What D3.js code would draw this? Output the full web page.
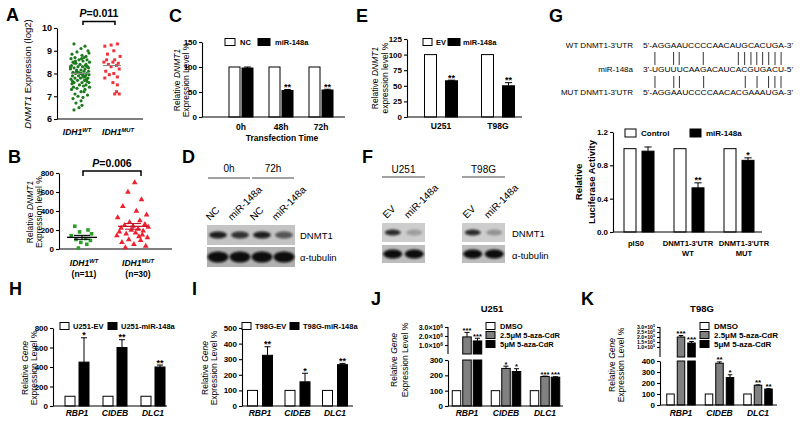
<!DOCTYPE html>
<html><head><meta charset="utf-8">
<script src="https://cdn.jsdelivr.net/npm/d3@7/dist/d3.min.js"></script>
<style>
body{margin:0;background:#fff;}
svg{display:block;font-family:"Liberation Sans",Arial,Helvetica,sans-serif;}
</style></head><body>
<script>
// ---------------- DATA ----------------
const aCats = ["IDH1WT", "IDH1MUT"];
const aTicks = [6, 7, 8, 9, 10];
const aWTvals = [9.3,9.2,9.1,9.0,8.95,8.9,8.85,8.8,8.75,8.7,8.7,8.65,8.6,8.6,8.55,8.5,8.5,8.45,8.4,8.4,8.35,8.3,8.3,8.3,8.25,8.2,8.2,8.15,8.1,8.1,8.1,8.05,8.0,8.0,8.0,7.95,7.9,7.9,7.9,7.85,7.8,7.8,7.8,7.75,7.7,7.7,7.65,7.6,7.6,7.55,7.5,7.5,7.45,7.4,7.4,7.35,7.3,7.3,7.2,7.2,7.1,7.05,7.0,6.95,6.9,6.8,6.7,6.6,6.5,6.4,8.65,8.45,8.25,8.05,7.85,7.65,8.35,8.15,7.95,7.75,8.55,8.0,7.6,8.3,7.9];
const aWTjit = [-0.6,0.5,0.1,0.8,-0.3,0.9,-0.8,0.2,0.6,-0.5,0.4,-0.9,0.7,-0.1,0.3,-0.7,0.95,-0.4,0.0,0.6,-0.85,0.25,-0.2,0.75,-0.6,0.5,-0.95,0.1,0.85,-0.35,0.4,-0.7,0.15,0.65,-0.45,0.9,-0.15,0.55,-0.75,0.3,-0.5,0.8,0.05,-0.9,0.45,-0.25,0.7,-0.6,0.2,-0.8,0.6,-0.05,0.35,-0.65,0.95,-0.3,0.5,-0.85,0.1,0.4,-0.5,0.75,-0.2,0.3,-0.7,0.1,-0.4,0.2,-0.1,-0.6,0.15,-0.55,0.85,-0.15,0.45,-0.75,0.55,-0.35,0.25,0.65,-0.45,0.05,0.9,-0.95,0.35];
const aMUTvals = [9.3,9.25,9.2,9.0,8.85,8.75,8.6,8.5,8.5,8.45,8.4,8.35,8.3,8.2,8.1,8.0,7.95,7.85,7.8,7.6,7.5,7.2,7.1,7.1,8.6];
const aMUTjit = [0.6,-0.1,-0.8,0.2,-0.5,0.9,0.3,-0.9,0.1,0.7,-0.4,0.5,-0.1,0.8,-0.7,0.2,-0.3,0.6,-0.8,0.1,0.6,0.5,0.3,0.8,-0.6];

const bCats = ["IDH1WT", "IDH1MUT"];
const bTicks = [0, 200, 400, 600, 800];
const bWTvals = [240,200,180,160,140,110,100,90,70,50,10];
const bWTjit = [-0.6,0.5,-0.2,0.8,-0.9,0.3,-0.5,0.7,-0.1,0.4,-0.3];
const bMUTvals = [700,600,520,450,400,360,330,300,280,260,250,240,230,220,210,200,190,180,170,160,150,140,130,120,100,90,70,50,30,15];
const bMUTjit = [0.1,-0.3,0.5,-0.6,0.2,0.8,-0.9,0.4,-0.2,0.7,-0.5,0.0,0.9,-0.7,0.3,-0.1,0.6,-0.8,0.15,-0.4,0.55,-0.95,0.35,0.85,-0.25,0.45,-0.65,0.05,0.75,-0.45];

const cGroups = ["0h", "48h", "72h"];
const cTicks = [0, 50, 100, 150];
const cNC = [100, 100, 100];
const cMiR = [98, 53, 54];
const cMiRerr = [2, 2, 1.5];
const cStars = ["", "**", "**"];

const dLanes = ["NC", "miR-148a", "NC", "miR-148a"];
const dTimes = ["0h", "72h"];
const dDNMT1 = [0.9, 0.8, 0.9, 0.6];
const dTub = [1, 1, 1, 1];

const eGroups = ["U251", "T98G"];
const eTicks = [0, 25, 50, 75, 100, 125];
const eEV = [100, 100];
const eMiR = [58, 50];
const eMiRerr = [1, 5];
const eStars = ["**", "**"];

const fLanes = ["EV", "miR-148a"];
const fU251DNMT1 = [0.85, 0.25];
const fT98GDNMT1 = [0.85, 0.3];
const fTub = [1, 1];

const gSeqNames = ["WT DNMT1-3'UTR", "miR-148a", "MUT DNMT1-3'UTR"];
const gSeqs = ["5'-AGGAAUCCCCAACAUGCACUGA-3'", "3'-UGUUUCAAGACAUCACGUGACU-5'", "5'-AGGAAUCCCCAACACGAAAUGA-3'"];
const gGroups = ["pIS0", "DNMT1-3'UTR|WT", "DNMT1-3'UTR|MUT"];
const gTicks = [0, 0.4, 0.8, 1.2];
const gCtrl = [1, 1, 1];
const gMiR = [0.97, 0.53, 0.86];
const gMiRerr = [0.05, 0.06, 0.03];
const gStars = ["", "**", "*"];

const genes = ["RBP1", "CIDEB", "DLC1"];
const hTicks = [0, 200, 400, 600, 800];
const hEV = [100, 100, 100];
const hMiR = [450, 600, 400];
const hMiRerr = [250, 80, 20];
const hStars = ["*", "**", "**"];

const iTicks = [0, 100, 200, 300, 400, 500];
const iEV = [100, 100, 100];
const iMiR = [325, 155, 265];
const iMiRerr = [55, 55, 8];
const iStars = ["**", "*", "**"];

const jLowTicks = [0, 100, 200, 300];
const jHighTicks = [1e6, 2e6, 3e6];
const jDMSO = [100, 100, 100];
const jAza25 = [1.9e6, 245, 192];
const jAza25err = [0.5e6, 15, 3];
const jAza5 = [1.45e6, 225, 188];
const jAza5err = [0.3e6, 18, 3];
const jStars25 = ["***", "*", "***"];
const jStars5 = ["***", "*", "***"];

const kLowTicks = [0, 100, 200, 300, 400];
const kHighTicks = [1e5, 1.5e5, 2e5, 2.5e5, 3e5];
const kDMSO = [100, 100, 100];
const kAza25 = [2.0e5, 380, 180];
const kAza25err = [0.15e5, 12, 3];
const kAza5 = [1.4e5, 250, 145];
const kAza5err = [0.15e5, 25, 3];
const kStars25 = ["***", "**", "**"];
const kStars5 = ["***", "*", "**"];

// ---------------- HELPERS ----------------
const FONT = '"Liberation Sans",Arial,Helvetica,sans-serif';
const svg = d3.select("body").append("svg").attr("width", 800).attr("height", 425);
svg.append("rect").attr("width", 800).attr("height", 425).attr("fill", "#fff");
const defs = svg.append("defs");
defs.append("filter").attr("id", "blur").attr("x", "-50%").attr("y", "-100%").attr("width", "200%").attr("height", "300%")
  .append("feGaussianBlur").attr("stdDeviation", 1.3);

function rich(g, x, y, parts, o = {}) {
  const size = o.size || 8;
  const t = g.append("text").attr("x", x).attr("y", y).attr("font-size", size)
    .attr("font-weight", o.weight || "bold").attr("text-anchor", o.anchor || "start")
    .attr("font-family", FONT).attr("fill", o.fill || "#000");
  if (o.rotate != null) t.attr("transform", `rotate(${o.rotate},${x},${y})`);
  parts.forEach(p => {
    const s = t.append("tspan").text(p.t);
    if (p.i) s.attr("font-style", "italic");
    if (p.sup) s.attr("baseline-shift", "super").attr("font-size", size * 0.68);
  });
  return t;
}
function yAxisLeft(g, scale, x, ticks, fmt, size) {
  const a = g.append("g").attr("transform", `translate(${x},0)`)
    .call(d3.axisLeft(scale).tickValues(ticks).tickSize(3).tickSizeOuter(0).tickPadding(2).tickFormat(fmt || d3.format("d")));
  a.selectAll(".tick text").attr("font-size", size || 8).attr("font-weight", "bold").attr("font-family", FONT).attr("fill", "#000");
  a.selectAll("path,line").attr("stroke", "#000").attr("stroke-width", 1.1);
  return a;
}
function xLine(g, x0, x1, y) {
  g.append("line").attr("x1", x0).attr("x2", x1).attr("y1", y).attr("y2", y).attr("stroke", "#000").attr("stroke-width", 1.1);
}
// generic grouped bars; o.y(v) maps value -> px; optional o.broken
function drawBars(g, o) {
  const n = o.series.length;
  o.series.forEach((s, si) => {
    const off = (si - (n - 1) / 2) * (o.w + o.gap);
    const data = o.groups.map((gn, gi) => ({ g: gn, v: s.vals[gi], e: s.errs ? s.errs[gi] : 0, st: s.stars ? s.stars[gi] : "" }));
    const cx = d => o.xc(d.g) + off;
    const sg = g.append("g");
    const isBig = d => o.broken && d.v > o.broken.lowMax;
    sg.selectAll("rect.low").data(data).join("rect").attr("class", "low")
      .attr("x", d => cx(d) - o.w / 2).attr("width", o.w)
      .attr("y", d => isBig(d) ? o.broken.lowTop : o.y(d.v))
      .attr("height", d => o.y0 - (isBig(d) ? o.broken.lowTop : o.y(d.v)))
      .attr("fill", s.fill).attr("stroke", "#000").attr("stroke-width", 1);
    sg.selectAll("rect.high").data(data.filter(isBig)).join("rect").attr("class", "high")
      .attr("x", d => cx(d) - o.w / 2).attr("width", o.w)
      .attr("y", d => o.y(d.v)).attr("height", d => o.broken.highBottom - o.y(d.v))
      .attr("fill", s.fill).attr("stroke", "#000").attr("stroke-width", 1);
    const ed = data.filter(d => d.e > 0);
    sg.selectAll("line.ev").data(ed).join("line").attr("class", "ev")
      .attr("x1", cx).attr("x2", cx).attr("y1", d => o.y(d.v)).attr("y2", d => o.y(d.v + d.e))
      .attr("stroke", "#000").attr("stroke-width", 1);
    sg.selectAll("line.ec").data(ed).join("line").attr("class", "ec")
      .attr("x1", d => cx(d) - o.w * 0.3).attr("x2", d => cx(d) + o.w * 0.3)
      .attr("y1", d => o.y(d.v + d.e)).attr("y2", d => o.y(d.v + d.e))
      .attr("stroke", "#000").attr("stroke-width", 1);
    sg.selectAll("text.st").data(data.filter(d => d.st)).join("text").attr("class", "st")
      .attr("x", cx).attr("y", d => o.y(d.v + d.e) + 0.5).attr("text-anchor", "middle")
      .attr("font-size", o.starSize || 9).attr("font-weight", "bold").attr("font-family", FONT).text(d => d.st);
  });
}
function legendItem(g, x, y, w, h, fill, label, size, tx) {
  g.append("rect").attr("x", x).attr("y", y - h / 2).attr("width", w).attr("height", h)
    .attr("fill", fill).attr("stroke", "#000").attr("stroke-width", 1);
  rich(g, x + w + (tx || 5), y + size * 0.35, [{ t: label }], { size: size });
}
function blot(g, x, y, w, h, intens, bg, rx, ry) {
  g.append("rect").attr("x", x).attr("y", y).attr("width", w).attr("height", h).attr("fill", bg);
  const lane = d3.scalePoint().domain(d3.range(intens.length)).range([x, x + w]).padding(0.5);
  g.selectAll(null).data(intens).join("ellipse")
    .attr("cx", (d, i) => lane(i)).attr("cy", y + h / 2).attr("rx", rx).attr("ry", ry)
    .attr("fill", "#0a0a0a").attr("opacity", d => d).attr("filter", "url(#blur)");
  return lane;
}
function letter(x, y, s) { rich(svg, x, y, [{ t: s }], { size: 18 }); }

// ---------------- PANEL A ----------------
letter(6, 21, "A");
{
  const g = svg.append("g");
  const y = d3.scaleLinear().domain([6, 10]).range([119, 28]);
  const x = d3.scalePoint().domain(aCats).range([80, 112]);
  yAxisLeft(g, y, 57, aTicks, d3.format("d"), 9);
  xLine(g, 57, 143, y(6));
  g.selectAll("circle.wt").data(d3.zip(aWTvals, aWTjit)).join("circle").attr("class", "wt")
    .attr("cx", d => x(aCats[0]) + d[1] * 10).attr("cy", d => y(d[0])).attr("r", 1.6).attr("fill", "#1e7a1e");
  g.selectAll("rect.mu").data(d3.zip(aMUTvals, aMUTjit)).join("rect").attr("class", "mu")
    .attr("x", d => x(aCats[1]) + d[1] * 9 - 1.5).attr("y", d => y(d[0]) - 1.5).attr("width", 3).attr("height", 3).attr("fill", "#f0343c");
  [[aWTvals, aCats[0]], [aMUTvals, aCats[1]]].forEach(([v, c]) => {
    const m = d3.median(v);
    g.append("line").attr("x1", x(c) - 9).attr("x2", x(c) + 9).attr("y1", y(m)).attr("y2", y(m)).attr("stroke", "#888").attr("stroke-width", 1);
  });
  rich(g, 31, 74, [{ t: "DNMT1", i: true }, { t: " Expression (log2)" }], { size: 9.5, weight: "normal", rotate: -90, anchor: "middle" });
  rich(g, 99, 17, [{ t: "P", i: true }, { t: "=0.011" }], { size: 10.5, anchor: "middle" });
  g.append("path").attr("d", `M${x(aCats[0]) + 3},25V21.5H${x(aCats[1]) + 3}V25`).attr("fill", "none").attr("stroke", "#000").attr("stroke-width", 1.5);
  rich(g, 77, 135, [{ t: "IDH1", i: true }, { t: "WT", i: true, sup: true }], { size: 8.5, anchor: "middle" });
  rich(g, 118, 135, [{ t: "IDH1", i: true }, { t: "MUT", i: true, sup: true }], { size: 8.5, anchor: "middle" });
}

// ---------------- PANEL B ----------------
letter(8, 163, "B");
{
  const g = svg.append("g");
  const y = d3.scaleLinear().domain([0, 800]).range([249, 173]);
  const x = d3.scalePoint().domain(bCats).range([82, 133]);
  yAxisLeft(g, y, 59, bTicks, d3.format("d"), 8);
  xLine(g, 59, 172, y(0));
  const sq = d3.symbol().type(d3.symbolSquare).size(13);
  const tri = d3.symbol().type(d3.symbolTriangle).size(14);
  g.selectAll("path.wt").data(d3.zip(bWTvals, bWTjit)).join("path").attr("class", "wt")
    .attr("d", sq).attr("transform", d => `translate(${x(bCats[0]) + d[1] * 12},${y(d[0])})`).attr("fill", "#2aa02a");
  g.selectAll("path.mu").data(d3.zip(bMUTvals, bMUTjit)).join("path").attr("class", "mu")
    .attr("d", tri).attr("transform", d => `translate(${x(bCats[1]) + d[1] * 17},${y(d[0])})`).attr("fill", "#f02030");
  [[bWTvals, bCats[0], "#000"], [bMUTvals, bCats[1], "#c01828"]].forEach(([v, c, col]) => {
    const m = d3.mean(v), se = d3.deviation(v) / Math.sqrt(v.length);
    const cx = x(c);
    g.append("line").attr("x1", cx - 15).attr("x2", cx + 15).attr("y1", y(m)).attr("y2", y(m)).attr("stroke", col).attr("stroke-width", 1.3);
    [m - se, m + se].forEach(s => g.append("line").attr("x1", cx - 8).attr("x2", cx + 8).attr("y1", y(s)).attr("y2", y(s)).attr("stroke", col).attr("stroke-width", 1.1));
    g.append("line").attr("x1", cx).attr("x2", cx).attr("y1", y(m - se)).attr("y2", y(m + se)).attr("stroke", col).attr("stroke-width", 1.1);
  });
  rich(g, 33, 212, [{ t: "Relative " }, { t: "DNMT1", i: true }], { size: 8.5, weight: "normal", rotate: -90, anchor: "middle" });
  rich(g, 42, 212, [{ t: "Expression level %" }], { size: 8.5, weight: "normal", rotate: -90, anchor: "middle" });
  rich(g, 112, 167, [{ t: "P", i: true }, { t: "=0.006" }], { size: 10.5, anchor: "middle" });
  g.append("path").attr("d", `M${x(bCats[0]) + 1},176V171H${x(bCats[1]) + 8}V176`).attr("fill", "none").attr("stroke", "#000").attr("stroke-width", 1.5);
  rich(g, 84, 266, [{ t: "IDH1", i: true }, { t: "WT", i: true, sup: true }], { size: 8.5, anchor: "middle" });
  rich(g, 84, 277, [{ t: "(n=11)" }], { size: 8.5, anchor: "middle" });
  rich(g, 138, 266, [{ t: "IDH1", i: true }, { t: "MUT", i: true, sup: true }], { size: 8.5, anchor: "middle" });
  rich(g, 138, 277, [{ t: "(n=30)" }], { size: 8.5, anchor: "middle" });
}

// ---------------- PANEL C ----------------
letter(169, 22, "C");
{
  const g = svg.append("g");
  const y = d3.scaleLinear().domain([0, 150]).range([117, 42]);
  const x = d3.scalePoint().domain(cGroups).range([241, 321]);
  drawBars(g, { groups: cGroups, xc: x, y: y, y0: y(0), w: 11, gap: 2,
    series: [{ vals: cNC, fill: "#fff" }, { vals: cMiR, errs: cMiRerr, stars: cStars, fill: "#000" }] });
  yAxisLeft(g, y, 202, cTicks, d3.format("d"), 8);
  xLine(g, 202, 345, y(0));
  cGroups.forEach(c => rich(g, x(c), 130, [{ t: c }], { size: 8.5, anchor: "middle" }));
  rich(g, 282, 141, [{ t: "Transfection Time" }], { size: 8.5, anchor: "middle" });
  rich(g, 180, 80, [{ t: "Relative " }, { t: "DNMT1", i: true }], { size: 8.5, weight: "normal", rotate: -90, anchor: "middle" });
  rich(g, 189, 80, [{ t: "Expression Level %" }], { size: 8.5, weight: "normal", rotate: -90, anchor: "middle" });
  legendItem(g, 225, 42, 10, 7, "#fff", "NC", 7.5);
  legendItem(g, 258, 42, 12, 7, "#000", "miR-148a", 7.5);
}

// ---------------- PANEL D ----------------
letter(182, 163, "D");
{
  const g = svg.append("g");
  const lane = blot(g, 207, 225, 88, 20, dDNMT1, "#c4c4c4", 9, 3.5);
  blot(g, 207, 247, 88, 20, dTub, "#b0b0b0", 10.5, 5.5);
  dTimes.forEach((t, i) => {
    const a = lane(2 * i), b = lane(2 * i + 1);
    rich(g, (a + b) / 2, 172, [{ t: t }], { size: 10, weight: "normal", anchor: "middle" });
    g.append("line").attr("x1", a - 10).attr("x2", b + 10).attr("y1", 178).attr("y2", 178).attr("stroke", "#444").attr("stroke-width", 1);
  });
  dLanes.forEach((l, i) => rich(g, lane(i) - 8, 221, [{ t: l }], { size: 10, weight: "normal", rotate: -45 }));
  rich(g, 300, 239, [{ t: "DNMT1" }], { size: 9.5, weight: "normal" });
  rich(g, 300, 261, [{ t: "α-tubulin" }], { size: 9.5, weight: "normal" });
}

// ---------------- PANEL E ----------------
letter(356, 22, "E");
{
  const g = svg.append("g");
  const y = d3.scaleLinear().domain([0, 125]).range([117, 39]);
  const x = d3.scalePoint().domain(eGroups).range([441, 498]);
  drawBars(g, { groups: eGroups, xc: x, y: y, y0: y(0), w: 12, gap: 9,
    series: [{ vals: eEV, fill: "#fff" }, { vals: eMiR, errs: eMiRerr, stars: eStars, fill: "#000" }] });
  yAxisLeft(g, y, 407, eTicks, d3.format("d"), 8);
  xLine(g, 407, 522, y(0));
  eGroups.forEach(c => rich(g, x(c), 129, [{ t: c }], { size: 8.5, anchor: "middle" }));
  rich(g, 378, 78, [{ t: "Relative " }, { t: "DNMT1", i: true }], { size: 8.5, weight: "normal", rotate: -90, anchor: "middle" });
  rich(g, 388, 78, [{ t: "expression level %" }], { size: 8.5, weight: "normal", rotate: -90, anchor: "middle" });
  legendItem(g, 423, 42, 9, 7, "#fff", "EV", 7.5, 4);
  legendItem(g, 448, 42, 12, 7, "#000", "miR-148a", 7.5, 3);
}

// ---------------- PANEL F ----------------
letter(362, 163, "F");
{
  const g = svg.append("g");
  [[382, "U251", fU251DNMT1], [462, "T98G", fT98GDNMT1]].forEach(([bx, name, dn]) => {
    const lane = blot(g, bx, 223, 43, 19, dn, "#cdcdcd", 8, 3);
    blot(g, bx, 245, 43, 18, fTub, "#bdbdbd", 9.5, 4.5);
    rich(g, bx + 21.5, 173, [{ t: name }], { size: 10, weight: "normal", anchor: "middle" });
    g.append("line").attr("x1", bx).attr("x2", bx + 43).attr("y1", 177).attr("y2", 177).attr("stroke", "#444").attr("stroke-width", 1);
    fLanes.forEach((l, i) => rich(g, lane(i) - 6, 219, [{ t: l }], { size: 10, weight: "normal", rotate: -45 }));
  });
  rich(g, 512, 237, [{ t: "DNMT1" }], { size: 9.5, weight: "normal" });
  rich(g, 512, 259, [{ t: "α-tubulin" }], { size: 9.5, weight: "normal" });
}

// ---------------- PANEL G ----------------
letter(549, 22, "G");
{
  const g = svg.append("g");
  const ys = [48, 72, 95];
  const seqEls = gSeqs.map((s, i) => {
    rich(g, 633, ys[i], [{ t: gSeqNames[i] }], { size: 8, weight: "normal", anchor: "end" });
    return rich(g, 643, ys[i], [{ t: s }], { size: 8, weight: "normal" }).attr("textLength", 150).attr("lengthAdjust", "spacingAndGlyphs");
  });
  const pair = (a, b) => (a + b === "AU" || a + b === "UA" || a + b === "GC" || a + b === "CG");
  [[0, 1], [2, 1]].forEach(([ti, mi], k) => {
    const tEl = seqEls[ti].node();
    const tSeq = gSeqs[ti], mSeq = gSeqs[mi];
    for (let p = 3; p < tSeq.length - 3; p++) {
      if (pair(tSeq[p], mSeq[p])) {
        const st = tEl.getStartPositionOfChar(p).x, en = tEl.getEndPositionOfChar(p).x;
        const cx = (st + en) / 2;
        const y1 = k === 0 ? ys[0] + 4 : ys[1] + 4, y2 = k === 0 ? ys[1] - 7 : ys[2] - 7;
        g.append("line").attr("x1", cx).attr("x2", cx).attr("y1", y1).attr("y2", y2).attr("stroke", "#000").attr("stroke-width", 0.8);
      }
    }
  });
  const y = d3.scaleLinear().domain([0, 1.2]).range([232, 132]);
  const x = d3.scalePoint().domain(gGroups).range([639, 739]);
  drawBars(g, { groups: gGroups, xc: x, y: y, y0: y(0), w: 12, gap: 6,
    series: [{ vals: gCtrl, fill: "#fff" }, { vals: gMiR, errs: gMiRerr, stars: gStars, fill: "#000" }] });
  yAxisLeft(g, y, 613, gTicks, d3.format(".1f"), 8);
  xLine(g, 613, 762, y(0));
  gGroups.forEach((c, ci) => c.split("|").forEach((line, li) => rich(g, x(c) + (ci === 2 ? 5 : ci === 1 ? -1 : -3), 246 + li * 10, [{ t: line }], { size: 7.6, anchor: "middle" })));
  rich(g, 582, 182, [{ t: "Relative" }], { size: 9.5, rotate: -90, anchor: "middle" });
  rich(g, 595, 182, [{ t: "Luciferase Activity" }], { size: 9.5, rotate: -90, anchor: "middle" });
  legendItem(g, 625, 133, 11, 8, "#fff", "Control", 8);
  legendItem(g, 690, 133, 11, 8, "#000", "miR-148a", 8);
}

// ---------------- PANELS H / I ----------------
function twoBar(letterXY, ax, axEnd, yTop, yMax, ticks, ev, mi, mierr, stars, centers, w, gap, ylabX, leg) {
  letter(letterXY[0], letterXY[1], letterXY[2]);
  const g = svg.append("g");
  const y = d3.scaleLinear().domain([0, yMax]).range([406, yTop]);
  const x = d3.scalePoint().domain(genes).range(centers);
  drawBars(g, { groups: genes, xc: x, y: y, y0: y(0), w: w, gap: gap,
    series: [{ vals: ev, fill: "#fff" }, { vals: mi, errs: mierr, stars: stars, fill: "#000" }] });
  yAxisLeft(g, y, ax, ticks, d3.format("d"), 8);
  xLine(g, ax, axEnd, y(0));
  genes.forEach(c => rich(g, x(c), 416, [{ t: c, i: true }], { size: 8.5, anchor: "middle" }));
  rich(g, ylabX[0], 368, [{ t: "Relative " }, { t: "Gene", i: true }], { size: 8.5, weight: "normal", rotate: -90, anchor: "middle" });
  rich(g, ylabX[1], 368, [{ t: "Expression Level %" }], { size: 8.5, weight: "normal", rotate: -90, anchor: "middle" });
  legendItem(g, leg[0], 326, 9, 7, "#fff", leg[2], 7.5, 4);
  legendItem(g, leg[1], 326, 9, 7, "#000", leg[3], 7.5, 4);
}
twoBar([9, 295, "H"], 53, 167, 328, 800, hTicks, hEV, hMiR, hMiRerr, hStars, [77, 153], 10, 4, [28, 37], [60, 108, "U251-EV", "U251-miR-148a"]);
twoBar([192, 295, "I"], 242, 353, 328, 500, iTicks, iEV, iMiR, iMiRerr, iStars, [260, 335], 10, 5, [208, 217], [242, 290, "T98G-EV", "T98G-miR-148a"]);

// ---------------- PANELS J / K ----------------
function brokenBar(o) {
  letter(o.letter[0], o.letter[1], o.letter[2]);
  const g = svg.append("g");
  const yLow = d3.scaleLinear().domain([0, o.lowMax]).range([o.y0, o.lowTop]);
  const yHigh = d3.scaleLinear().domain([0, o.highMax]).range([o.highBottom, 327]);
  const yb = v => v <= o.lowMax ? yLow(v) : yHigh(v);
  const x = d3.scalePoint().domain(genes).range(o.centers);
  drawBars(g, { groups: genes, xc: x, y: yb, y0: o.y0, w: o.w, gap: o.gap, starSize: o.starSize,
    broken: { lowMax: o.lowMax, lowTop: o.lowTop, highBottom: o.highBottom },
    series: [{ vals: o.dmso, fill: "#fff" }, { vals: o.a25, errs: o.a25e, stars: o.s25, fill: "#808080" }, { vals: o.a5, errs: o.a5e, stars: o.s5, fill: "#000" }] });
  yAxisLeft(g, yLow, o.ax, o.lowTicks, d3.format("d"), 8);
  const hi = yAxisLeft(g, yHigh, o.ax, o.highTicks, null, 8);
  hi.selectAll(".tick text").each(function (d) {
    const t = d3.select(this).text(null);
    const e = Math.floor(Math.log10(o.highMax));
    t.append("tspan").text(d3.format(".1f")(d / Math.pow(10, e)) + "×10");
    t.append("tspan").text(e).attr("baseline-shift", "super").attr("font-size", o.hiSize * 0.7);
  }).attr("font-size", o.hiSize);
  hi.select(".domain").attr("d", `M0,${o.highBottom}V327`);
  xLine(g, o.ax, o.axEnd, o.y0);
  genes.forEach(c => rich(g, x(c), 416, [{ t: c, i: true }], { size: 8.5, anchor: "middle" }));
  rich(g, o.title[0], 312, [{ t: o.title[1] }], { size: 9.5, anchor: "middle" });
  rich(g, o.ylab[0], o.ylab[2], [{ t: "Relative " }, { t: "Gene", i: true }], { size: 8.5, weight: "normal", rotate: -90, anchor: "middle" });
  rich(g, o.ylab[1], o.ylab[2], [{ t: "Expression Level %" }], { size: 8.5, weight: "normal", rotate: -90, anchor: "middle" });
  legendItem(g, o.leg, 326, 9, 7, "#fff", "DMSO", o.legSize);
  legendItem(g, o.leg, 335, 9, 7, "#808080", "2.5μM 5-aza-CdR", o.legSize);
  legendItem(g, o.leg, 344, 9, 7, "#000", "5μM 5-aza-CdR", o.legSize);
}
brokenBar({ letter: [371, 305, "J"], ax: 448, axEnd: 563, y0: 406, lowTop: 360, lowMax: 300, highBottom: 354, highMax: 3e6,
  lowTicks: jLowTicks, highTicks: jHighTicks, dmso: jDMSO, a25: jAza25, a25e: jAza25err, a5: jAza5, a5e: jAza5err, s25: jStars25, s5: jStars5,
  centers: [467, 545], w: 8.5, gap: 2, title: [492, "U251"], ylab: [397, 408, 360], leg: 486, legSize: 7.5, starSize: 7.5, hiSize: 7 });
brokenBar({ letter: [581, 305, "K"], ax: 660, axEnd: 777, y0: 405, lowTop: 361, lowMax: 400, highBottom: 357, highMax: 3e5,
  lowTicks: kLowTicks, highTicks: kHighTicks, dmso: kDMSO, a25: kAza25, a25e: kAza25err, a5: kAza5, a5e: kAza5err, s25: kStars25, s5: kStars5,
  centers: [681, 758], w: 7.5, gap: 3, title: [702, "T98G"], ylab: [615, 624, 365], leg: 700, legSize: 8, starSize: 8, hiSize: 5.2 });
</script>
</body></html>
